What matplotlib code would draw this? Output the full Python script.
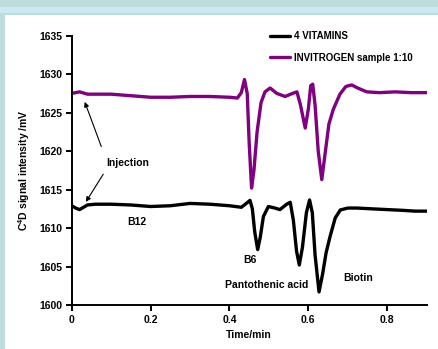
import matplotlib
matplotlib.use("Agg")
import matplotlib.pyplot as plt
from matplotlib.patches import Rectangle

plt.rcParams['font.family'] = ['Liberation Sans', 'DejaVu Sans']
plt.rcParams['font.weight'] = 'bold'
plt.rcParams['mathtext.fontset'] = 'custom'
plt.rcParams['mathtext.bf'] = 'Liberation Sans:bold'
plt.rcParams['mathtext.rm'] = 'Liberation Sans:bold'

# ---- data ----
purple_t = [0.00, 0.02, 0.04, 0.06, 0.10, 0.15, 0.20, 0.25, 0.30, 0.35, 0.40, 0.42,
            0.43, 0.438, 0.445, 0.450, 0.456, 0.462, 0.470, 0.480, 0.490, 0.503,
            0.520, 0.541, 0.560, 0.571, 0.580, 0.592, 0.600, 0.606, 0.611, 0.617,
            0.625, 0.634, 0.642, 0.652, 0.663, 0.680, 0.695, 0.710, 0.725, 0.748,
            0.78, 0.82, 0.86, 0.90]
purple_v = [1627.5, 1627.7, 1627.4, 1627.4, 1627.4, 1627.2, 1627.0, 1627.0, 1627.1,
            1627.1, 1627.0, 1626.9, 1627.6, 1629.3, 1627.5, 1621.0, 1615.2, 1617.5,
            1622.5, 1626.3, 1627.7, 1628.2, 1627.5, 1627.1, 1627.5, 1627.7, 1626.0,
            1623.0, 1625.5, 1628.5, 1628.7, 1626.0, 1620.0, 1616.3, 1619.5, 1623.5,
            1625.4, 1627.4, 1628.4, 1628.6, 1628.2, 1627.7, 1627.6, 1627.7, 1627.6,
            1627.6]

black_t = [0.00, 0.01, 0.02, 0.03, 0.04, 0.06, 0.10, 0.15, 0.20, 0.25, 0.30, 0.35,
           0.40, 0.43, 0.445, 0.452, 0.458, 0.464, 0.4715, 0.478, 0.486, 0.4986,
           0.515, 0.528, 0.545, 0.554, 0.562, 0.570, 0.577, 0.585, 0.595, 0.603,
           0.610, 0.617, 0.627, 0.636, 0.645, 0.655, 0.668, 0.681, 0.70, 0.723,
           0.76, 0.80, 0.84, 0.87, 0.90]
black_v = [1612.9, 1612.6, 1612.4, 1612.7, 1613.0, 1613.1, 1613.1, 1613.0, 1612.8,
           1612.9, 1613.2, 1613.1, 1612.9, 1612.7, 1613.3, 1613.6, 1612.5, 1609.5,
           1607.2, 1608.8, 1611.5, 1612.8, 1612.6, 1612.4, 1613.1, 1613.35, 1611.0,
           1607.0, 1605.2, 1607.5, 1612.0, 1613.65, 1612.0, 1606.5, 1601.7, 1604.0,
           1606.8, 1608.9, 1611.3, 1612.35, 1612.6, 1612.6, 1612.5, 1612.4, 1612.3,
           1612.2, 1612.2]

series_labels = ["4 VITAMINS", "INVITROGEN sample 1:10"]
x_ticks = [0, 0.2, 0.4, 0.6, 0.8]
x_ticklabels = ["0", "0.2", "0.4", "0.6", "0.8"]
y_ticks = [1600, 1605, 1610, 1615, 1620, 1625, 1630, 1635]

peak_labels = ["B12", "B6", "Pantothenic acid", "Biotin"]
peak_label_x = [0.165, 0.452, 0.494, 0.725]
peak_label_y = [1610.8, 1605.85, 1602.6, 1603.5]

W, H = 438, 349
FS = 7.5
fig = plt.figure(figsize=(W / 100, H / 100), dpi=100, facecolor='white')

# background frame bands
teal = '#bfdcdd'
lblue = '#cbe8f5'
fig.patches.append(Rectangle((0, 1 - 15 / H), 1, 15 / H, transform=fig.transFigure,
                             facecolor=teal, edgecolor='none', zorder=0))
fig.patches.append(Rectangle((0, 1 - 13 / H), 1, 6 / H, transform=fig.transFigure,
                             facecolor=lblue, edgecolor='none', zorder=0))
fig.patches.append(Rectangle((0, 0), 5 / W, 1 - 13 / H, transform=fig.transFigure,
                             facecolor=teal, edgecolor='none', zorder=0))

ax = fig.add_axes([71.7 / W, 1 - 305 / H, (426.7 - 71.7) / W, (305 - 35.7) / H])
ax.set_facecolor('none')

ax.plot(black_t, black_v, color='black', lw=2.4, label=series_labels[0],
        solid_joinstyle='round', solid_capstyle='round')
ax.plot(purple_t, purple_v, color='#800080', lw=2.4, label=series_labels[1],
        solid_joinstyle='round', solid_capstyle='round')

ax.set_xlim(0, 0.9)
ax.set_ylim(1600, 1635)
ax.set_xticks(x_ticks)
ax.set_xticklabels(x_ticklabels)
ax.set_yticks(y_ticks)
for s in ['top', 'right']:
    ax.spines[s].set_visible(False)
for s in ['left', 'bottom']:
    ax.spines[s].set_linewidth(1.4)
ax.tick_params(direction='out', length=4, width=1.4, labelsize=FS, pad=3)
for lab in ax.get_xticklabels() + ax.get_yticklabels():
    lab.set_fontweight('bold')

ax.set_xlabel("Time/min", fontsize=FS, fontweight='bold', labelpad=4)
ax.set_ylabel(r"C$^{\mathbf{4}}$D signal intensity /mV", fontsize=FS, fontweight='bold',
              labelpad=5)

# injection annotations
ax.text(0.142, 1618.5, "Injection", fontsize=FS, fontweight='bold', ha='center',
        va='center')
ax.annotate("", xy=(0.033, 1626.4), xytext=(0.075, 1620.6),
            arrowprops=dict(arrowstyle='-|>', color='black', lw=0.8,
                            mutation_scale=7, shrinkA=0, shrinkB=0))
ax.annotate("", xy=(0.036, 1613.4), xytext=(0.080, 1617.0),
            arrowprops=dict(arrowstyle='-|>', color='black', lw=0.8,
                            mutation_scale=7, shrinkA=0, shrinkB=0))

for lab, lx, ly in zip(peak_labels, peak_label_x, peak_label_y):
    ax.text(lx, ly, lab, fontsize=FS, fontweight='bold', ha='center', va='center')

leg = fig.legend(loc='upper left', bbox_to_anchor=(270 / W, 1 - 31 / H),
                 frameon=False, prop={'size': 7, 'weight': 'bold'},
                 handlelength=2.1, handletextpad=0.4, labelspacing=1.2,
                 borderpad=0, borderaxespad=0)

fig.savefig("out.png", dpi=100, facecolor=fig.get_facecolor())
